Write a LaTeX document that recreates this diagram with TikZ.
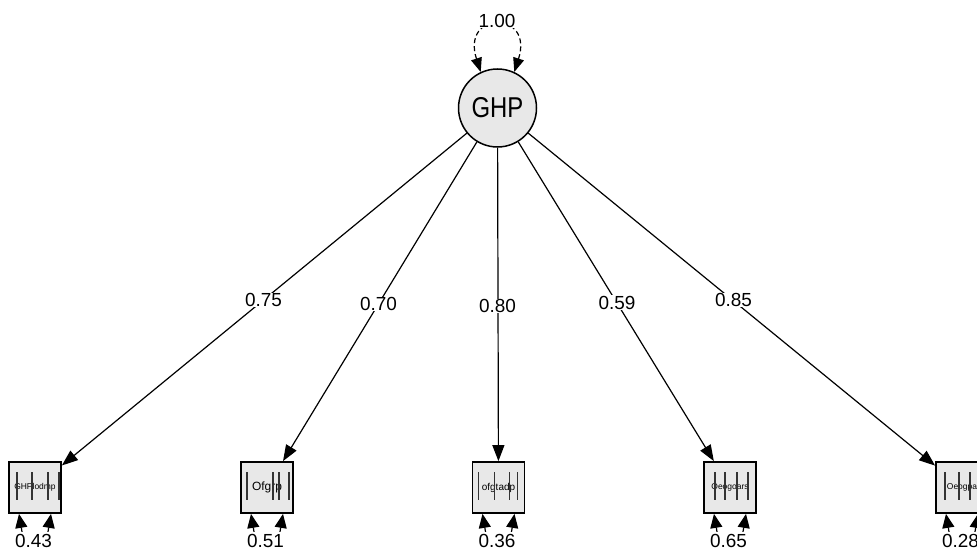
\documentclass[tikz,border=0pt]{standalone}
\usepackage{fontspec}
\setmainfont{Liberation Sans}
\usetikzlibrary{arrows.meta,calc}
\begin{document}
\begin{tikzpicture}[x=1bp,y=-1bp,
  latent/.style={circle,draw,line width=1.5bp,fill=black!9,minimum size=78bp,inner sep=0pt},
  manifest/.style={rectangle,draw,line width=1.8bp,fill=black!9,minimum width=52bp,minimum height=51bp,inner sep=0pt},
  load/.style={line width=1.2bp,-{Triangle[length=16bp,width=12bp]}},
  resid/.style={line width=1.2bp,{Triangle[length=14bp,width=12bp]}-{Triangle[length=14bp,width=12bp]}},
  selfvar/.style={line width=1.2bp,dash pattern=on 5bp off 3bp,{Triangle[length=14bp,width=11bp]}-{Triangle[length=14bp,width=11bp]}},
  coef/.style={fill=white,inner sep=0.6bp,font=\fontsize{19}{19}\selectfont},
  rcoef/.style={coef,inner sep=2bp},
  bar/.style={line width=1.5bp,draw=black!80}]

\useasboundingbox (0,0) rectangle (977,550);
\fill[white] (0,0) rectangle (977,550);
\clip (0,0) rectangle (977,550);

% latent factor
\node[latent] (g) at (497.5,108) {\scalebox{1}[1.2]{\fontsize{24}{24}\selectfont GHP}};

% observed indicators
\node[manifest,font=\fontsize{8.5}{8.5}\selectfont] (b1) at (35,487.5)  {GHPlodmp};
\node[manifest,font=\fontsize{12}{12}\selectfont]   (b2) at (267,487.5) {Ofgrp};
\node[manifest,font=\fontsize{10}{10}\selectfont]   (b3) at (498.5,487.5) {ofgtadp};
\node[manifest,font=\fontsize{8.5}{8.5}\selectfont] (b4) at (730,487.5) {Oeogoars};
\node[manifest,font=\fontsize{8.5}{8.5}\selectfont] (b5) at (962,487.5) {Oeogpa};

% vertical strokes inside the boxes
\foreach \dx in {-18,-3,13,24} \draw[bar] ($(b1.center)+(\dx,-15.5)$) -- ++(0,28);
\foreach \dx in {-20,6,12,22}  \draw[bar] ($(b2.center)+(\dx,-15.5)$) -- ++(0,28);
\foreach \dx in {-20,-4,11,19} \draw[bar] ($(b3.center)+(\dx,-15.5)$) -- ++(0,28);
\foreach \dx in {-15,-5,7,18}  \draw[bar] ($(b4.center)+(\dx,-15.5)$) -- ++(0,28);
\foreach \dx in {-17,-3,8}     \draw[bar] ($(b5.center)+(\dx,-15.5)$) -- ++(0,28);

% factor variance
\draw[selfvar] (g.115) .. controls +(-20,-62) and +(20,-62) .. (g.65);
\node[coef] (v0) at (497,21) {1.00};

% loadings
\draw[load] (g) -- (b1);
\draw[load] (g) -- (b2);
\draw[load] (g) -- (b3);
\draw[load] (g) -- (b4);
\draw[load] (g) -- (b5);
\node[coef] (l1) at (263.5,300) {0.75};
\node[coef] (l2) at (378.5,304) {0.70};
\node[coef] (l3) at (497.5,306) {0.80};
\node[coef] (l4) at (617,302.5) {0.59};
\node[coef] (l5) at (733.5,300) {0.85};

% residual variances
\foreach \b/\v in {b1/0.43,b2/0.51,b3/0.36,b4/0.65,b5/0.28}{
  \draw[resid] ($(\b.south)+(-16,0)$) .. controls +(10,60) and +(-10,60) .. ($(\b.south)+(16,0)$);
  \node[rcoef] (r\b) at ($(\b.south)+(-1.5,27)$) {\v};
}
\end{tikzpicture}
\end{document}
